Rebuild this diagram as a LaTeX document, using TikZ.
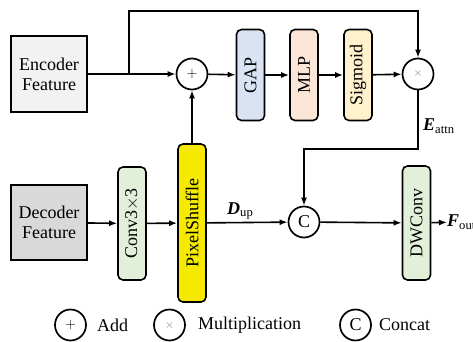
\documentclass[tikz,border=0pt]{standalone}
\usepackage{fontspec}
\setmainfont{Liberation Serif}
\usepackage{xcolor}
\usepackage{tikz}
\usetikzlibrary{arrows.meta,positioning,calc}

\definecolor{gapblue}{HTML}{DAE3F3}
\definecolor{mlporange}{HTML}{FBE5D6}
\definecolor{sigyellow}{HTML}{FFF2CC}
\definecolor{convgreen}{HTML}{E2F0D9}
\definecolor{psyellow}{HTML}{F5EA00}
\definecolor{enclight}{HTML}{F2F2F2}
\definecolor{decgray}{HTML}{D9D9D9}

\begin{document}
\begin{tikzpicture}[x=1pt,y=-1pt,
    font=\fontsize{18}{20}\selectfont,
    feat/.style={draw, line width=1.8pt, minimum width=76pt, minimum height=76pt, align=center, inner sep=0pt},
    block/.style={draw, line width=1.6pt, rounded corners=5pt, rotate=90, minimum height=28pt, inner sep=0pt},
    op/.style={draw, circle, line width=1.7pt, minimum size=31pt, inner sep=0pt},
    arr/.style={line width=1.6pt, -{Latex[length=8pt,width=6pt]}},
    lbl/.style={anchor=west, inner sep=0pt}]
    \useasboundingbox (0,0) rectangle (473,342);

    % Encoder branch
    \node[feat, fill=enclight] (enc) at (49,74) {Encoder\\Feature};
    \node[op] (add) at (192,74) {\fontsize{15}{15}\selectfont $+$};
    \node[block, fill=gapblue, minimum width=91pt] (gap) at (250.5,75) {GAP};
    \node[block, fill=mlporange, minimum width=91pt] (mlp) at (304,75) {MLP};
    \node[block, fill=sigyellow, minimum width=91pt] (sig) at (358,75) {Sigmoid};
    \node[op] (mul) at (418,74) {\color{gray}\fontsize{13}{13}\selectfont $\times$};

    % Decoder branch
    \node[feat, fill=decgray, minimum height=75pt] (dec) at (49,222.5) {Decoder\\Feature};
    \node[block, fill=convgreen, minimum width=113pt] (conv) at (132,223.5) {Conv3$\times$3};
    \node[block, fill=psyellow, minimum width=158pt] (ps) at (192,223) {PixelShuffle};
    \node[op] (cat) at (304,222) {C};
    \node[block, fill=convgreen, minimum width=114pt] (dw) at (416.5,223) {DWConv};
    \node[lbl] (fout) at (447,222) {{\bfseries\itshape F}\textsubscript{out}};

    \coordinate (split) at (129,74);
    \coordinate (top) at (129,11);
    \coordinate (turn) at (418,149);

    % connectors
    \draw[arr] (enc) -- (add);
    \draw[arr] (split) -- (top) -| (mul);
    \draw[arr] (add) -- (gap);
    \draw[arr] (gap) -- (mlp);
    \draw[arr] (mlp) -- (sig);
    \draw[arr] (sig) -- (mul);
    \draw[arr] (mul) -- (turn) -| (cat);
    \draw[arr] (dec) -- (conv);
    \draw[arr] (conv) -- (ps);
    \draw[arr] (ps) -- (add);
    \draw[arr] (ps) -- (cat);
    \draw[arr] (cat) -- (dw);
    \draw[arr] (dw) -- (fout);

    \node[lbl] (eattn) at (423,126) {{\bfseries\itshape E}\textsubscript{attn}};
    \node[lbl] (dup) at (227,211) {{\bfseries\itshape D}\textsubscript{up}};

    % legend
    \node[op] (ladd) at (70.5,325) {\fontsize{15}{15}\selectfont $+$};
    \node[lbl] (tadd) at (97,325) {Add};
    \node[op] (lmul) at (169.5,325) {\color{gray}\fontsize{13}{13}\selectfont $\times$};
    \node[lbl] (tmul) at (198,325) {Multiplication};
    \node[op] (lcat) at (355.5,325) {C};
    \node[lbl] (tcat) at (379,325) {Concat};
\end{tikzpicture}
\end{document}
